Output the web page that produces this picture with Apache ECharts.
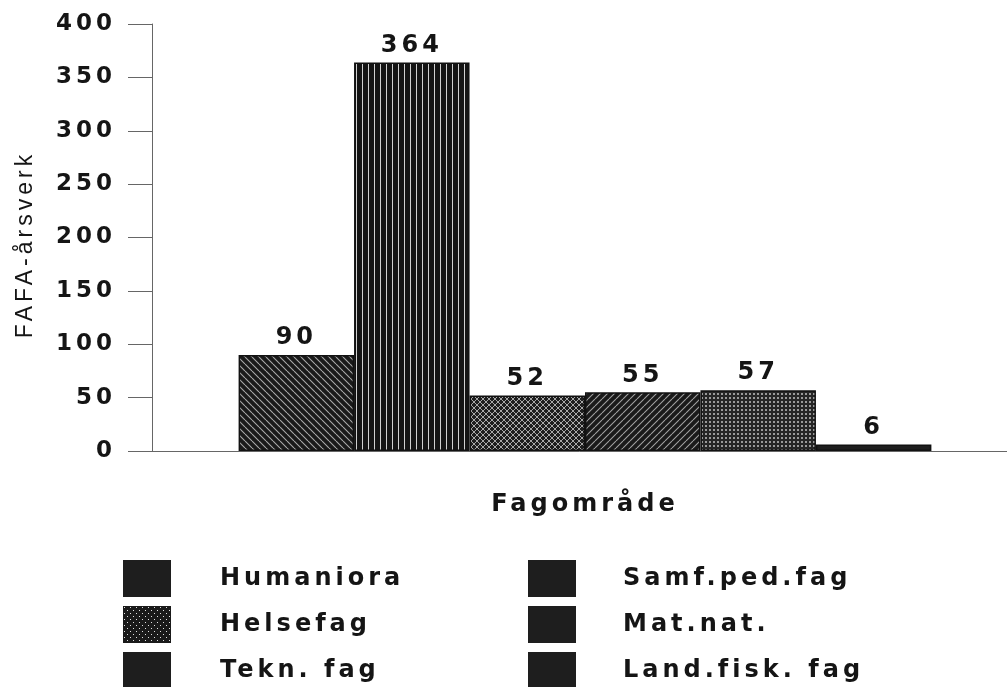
<!DOCTYPE html>
<html>
<head>
<meta charset="utf-8">
<script src="https://cdn.jsdelivr.net/npm/echarts@6/dist/echarts.min.js"></script>
<style>
  html, body { margin: 0; padding: 0; background: #fff; }
  #chart { width: 1007px; height: 687px; }
</style>
</head>
<body>
<div id="chart"></div>
<script>
// data
const category = ['']
const seriesNames = ['Humaniora', 'Samf.ped.fag', 'Helsefag', 'Mat.nat.', 'Tekn. fag', 'Land.fisk. fag']
const seriesValues = [90, 364, 52, 55, 57, 6]
const yTicks = [0, 50, 100, 150, 200, 250, 300, 350, 400]
const legendLeft = ['Humaniora', 'Helsefag', 'Tekn. fag']
const legendRight = ['Samf.ped.fag', 'Mat.nat.', 'Land.fisk. fag']

// the original typeface is wide and spaced out, give canvas text some tracking
const tracking = '4px'
const ctxProto = CanvasRenderingContext2D.prototype
const origFill = ctxProto.fillText
const origMeasure = ctxProto.measureText
ctxProto.fillText = function (...args) {
  this.letterSpacing = tracking
  return origFill.apply(this, args)
}
ctxProto.measureText = function (...args) {
  this.letterSpacing = tracking
  return origMeasure.apply(this, args)
}

// small tiles used as bar fills
function makePattern (w, h, bg, draw) {
  const c = document.createElement('canvas')
  c.width = w
  c.height = h
  const ctx = c.getContext('2d')
  ctx.fillStyle = bg
  ctx.fillRect(0, 0, w, h)
  draw(ctx, w, h)
  return { image: c, repeat: 'repeat' }
}

const patterns = [
  // Humaniora: back slash hatch
  makePattern(7, 7, '#1a1a1a', (ctx, w) => {
    ctx.strokeStyle = '#a8a8a8'
    ctx.lineWidth = 1.1
    ctx.beginPath()
    for (const k of [-w, 0, w]) {
      ctx.moveTo(k, 0)
      ctx.lineTo(k + w, w)
    }
    ctx.stroke()
  }),
  // Samf.ped.fag: vertical lines
  makePattern(6, 4, '#141414', ctx => {
    ctx.fillStyle = '#d0d0d0'
    ctx.fillRect(2, 0, 1, 4)
  }),
  // Helsefag: diamond lattice
  makePattern(6, 6, '#1e1e1e', (ctx, w) => {
    ctx.strokeStyle = '#a8a8a8'
    ctx.lineWidth = 1
    ctx.beginPath()
    for (const k of [-w, 0, w]) {
      ctx.moveTo(k, 0)
      ctx.lineTo(k + w, w)
      ctx.moveTo(k, w)
      ctx.lineTo(k + w, 0)
    }
    ctx.stroke()
  }),
  // Mat.nat.: forward slash hatch
  makePattern(7, 7, '#1a1a1a', (ctx, w) => {
    ctx.strokeStyle = '#a0a0a0'
    ctx.lineWidth = 1.1
    ctx.beginPath()
    for (const k of [-w, 0, w]) {
      ctx.moveTo(k, w)
      ctx.lineTo(k + w, 0)
    }
    ctx.stroke()
  }),
  // Tekn. fag: dots
  makePattern(4, 4, '#262626', ctx => {
    ctx.fillStyle = '#9a9a9a'
    ctx.fillRect(1, 1, 2, 2)
  }),
  // Land.fisk. fag: solid
  '#1e1e1e'
]

const legendDots = makePattern(6, 6, '#1a1a1a', ctx => {
  ctx.fillStyle = '#e0e0e0'
  ctx.fillRect(1, 1, 1, 1)
  ctx.fillRect(4, 4, 1, 1)
})

const textColor = '#151515'
const boldFont = 'DejaVu Sans'

function legendItems (names) {
  return names.map(name => ({
    name,
    itemStyle: { color: name === 'Helsefag' ? legendDots : '#1e1e1e', borderWidth: 0 }
  }))
}

function legendBlock (names, left, textGap) {
  return {
    orient: 'vertical',
    left,
    top: 560,
    height: 160,
    padding: 0,
    itemWidth: 48,
    itemHeight: 37,
    itemGap: 9,
    icon: 'rect',
    data: legendItems(names),
    textStyle: {
      fontFamily: boldFont,
      fontWeight: 'bold',
      fontSize: 24,
      color: textColor,
      padding: [0, 0, 0, textGap]
    }
  }
}

const chart = echarts.init(document.getElementById('chart'))

const option = {
  animation: false,
  backgroundColor: '#ffffff',
  grid: {
    left: 152,
    right: -11,
    top: 24,
    bottom: 236,
    containLabel: false,
    outerBoundsMode: 'none'
  },
  legend: [
    legendBlock(legendLeft, 123, 44),
    legendBlock(legendRight, 528, 42)
  ],
  xAxis: {
    type: 'category',
    data: category,
    name: 'Fagområde',
    nameLocation: 'middle',
    nameGap: 40,
    nameTextStyle: {
      fontFamily: boldFont,
      fontWeight: 'bold',
      fontSize: 24,
      color: textColor
    },
    axisLine: { lineStyle: { color: '#666', width: 1 } },
    axisTick: { alignWithLabel: true, length: 17, lineStyle: { color: '#666' } },
    axisLabel: { show: false }
  },
  yAxis: {
    type: 'value',
    min: yTicks[0],
    max: yTicks[yTicks.length - 1],
    interval: yTicks[1] - yTicks[0],
    name: 'FAFA-årsverk',
    nameLocation: 'middle',
    nameGap: 113,
    nameTextStyle: {
      fontFamily: 'Liberation Sans',
      fontSize: 23,
      color: textColor,
      padding: [0, 14, 0, 0]
    },
    splitLine: { show: false },
    axisLine: { show: true, lineStyle: { color: '#666', width: 1 } },
    axisTick: { show: true, length: 24, lineStyle: { color: '#666' } },
    axisLabel: {
      margin: 36,
      fontFamily: boldFont,
      fontWeight: 'bold',
      fontSize: 23,
      color: textColor
    }
  },
  series: seriesNames.map((name, i) => ({
    name,
    type: 'bar',
    data: [seriesValues[i]],
    barGap: '0%',
    barCategoryGap: '20%',
    itemStyle: {
      color: patterns[i],
      borderColor: '#111',
      borderWidth: 1.5
    },
    label: {
      show: true,
      position: 'top',
      distance: 3,
      fontFamily: boldFont,
      fontWeight: 'bold',
      fontSize: 24,
      color: textColor
    }
  }))
}

chart.setOption(option)
</script>
</body>
</html>
